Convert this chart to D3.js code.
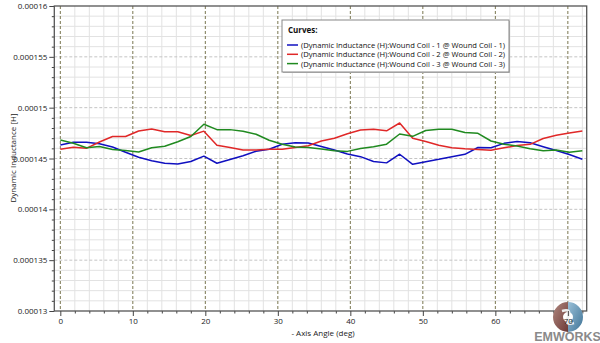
<!DOCTYPE html>
<html><head><meta charset="utf-8">
<script src="https://cdn.jsdelivr.net/npm/d3@7"></script>
<style>body{margin:0;background:#fff;}svg{display:block;font-family:"Open Sans","Noto Sans",sans-serif;}</style>
</head><body>
<script>
const angles = d3.range(41).map(i => +(i * 1.8).toFixed(1));
const coil1 = [146.33,146.59,146.59,146.46,146.13,145.61,145.12,144.78,144.53,144.46,144.71,145.23,144.53,144.90,145.27,145.71,145.91,146.40,146.54,146.53,146.18,145.84,145.44,145.18,144.70,144.57,145.42,144.43,144.69,144.92,145.18,145.41,146.08,146.06,146.49,146.67,146.54,146.16,145.79,145.39,144.92];
const coil2 = [145.92,146.10,146.00,146.62,147.16,147.16,147.71,147.90,147.63,147.63,147.26,147.69,146.30,146.08,145.84,145.84,145.90,145.91,146.08,146.25,146.72,146.99,147.44,147.80,147.87,147.72,148.49,147.00,146.67,146.30,146.06,145.96,145.89,145.82,146.05,146.27,146.39,146.97,147.28,147.51,147.71];
const coil3 = [146.82,146.50,146.05,146.19,145.88,145.78,145.64,146.06,146.20,146.65,147.16,148.37,147.84,147.84,147.69,147.39,146.79,146.41,146.13,146.08,145.93,145.77,145.70,145.99,146.16,146.41,147.41,147.18,147.75,147.87,147.87,147.55,147.48,146.72,146.40,146.23,145.95,145.76,145.84,145.61,145.77];
const seriesNames = ["(Dynamic Inductance (H):Wound Coil - 1 @ Wound Coil - 1)","(Dynamic Inductance (H):Wound Coil - 2 @ Wound Coil - 2)","(Dynamic Inductance (H):Wound Coil - 3 @ Wound Coil - 3)"];
const seriesColors = ["#1010c0","#e02828","#208a20"];
const yTicks = [0.00013,0.000135,0.00014,0.000145,0.00015,0.000155,0.00016];
const yTickLabels = ["0.00013","0.000135","0.00014","0.000145","0.00015","0.000155","0.00016"];
const xTicks = [0,10,20,30,40,50,60,70];

const W=600,H=343;
const svg=d3.select("body").append("svg").attr("width",W).attr("height",H);
const x=d3.scaleLinear().domain([-0.83,72.6]).range([54.3,586.7]);
const y=d3.scaleLinear().domain([0.00013,0.00016]).range([311,6]);

// minor grid
const g=svg.append("g");
g.selectAll(".mx").data(d3.range(2,72.1,2).filter(v=>v%10!==0)).join("line")
 .attr("x1",d=>x(d)).attr("x2",d=>x(d)).attr("y1",6).attr("y2",311)
 .attr("stroke","#e2e2e2").attr("stroke-width",1);
const minorY=d3.range(131,160,1).filter(v=>v%5!==0).map(v=>v*1e-6);
g.selectAll(".my").data(minorY).join("line")
 .attr("x1",54.3).attr("x2",586.7).attr("y1",d=>y(d)).attr("y2",d=>y(d))
 .attr("stroke","#e2e2e2").attr("stroke-width",1);
// major grid
g.selectAll(".My").data(yTicks.slice(1,-1)).join("line")
 .attr("x1",54.3).attr("x2",586.7).attr("y1",d=>y(d)).attr("y2",d=>y(d))
 .attr("stroke","#c4c4c4").attr("stroke-width",1).attr("stroke-dasharray","3,2");
g.selectAll(".Mx").data(xTicks).join("line")
 .attr("x1",d=>x(d)).attr("x2",d=>x(d)).attr("y1",6).attr("y2",311)
 .attr("stroke","#7a7650").attr("stroke-width",1).attr("stroke-dasharray","3,2");

// logo (drawn under the axis labels)
const defs=svg.append("defs");
const gr1=defs.append("linearGradient").attr("id","lg1").attr("x1","0").attr("x2","1").attr("y1","0").attr("y2","1");
gr1.append("stop").attr("offset","0").attr("stop-color","#b08880");
gr1.append("stop").attr("offset","1").attr("stop-color","#6e3a36");
const gr2=defs.append("linearGradient").attr("id","lg2").attr("x1","0").attr("x2","1").attr("y1","0").attr("y2","1");
gr2.append("stop").attr("offset","0").attr("stop-color","#9ac0d8");
gr2.append("stop").attr("offset","1").attr("stop-color","#3f7396");

// axes
const yAxis=d3.axisLeft(y).tickValues(yTicks).tickFormat((d,i)=>yTickLabels[i]).tickSize(5).tickPadding(2);
svg.append("g").attr("transform","translate(54.3,0)").call(yAxis);
const yMinor=d3.axisLeft(y).tickValues(minorY).tickFormat("").tickSize(2.5);
svg.append("g").attr("transform","translate(54.3,0)").call(yMinor).select(".domain").remove();
const xMinor=d3.axisBottom(x).tickValues(d3.range(2,72.1,2).filter(v=>v%10!==0)).tickFormat("").tickSize(2.5);
svg.append("g").attr("transform","translate(0,311)").call(xMinor).select(".domain").remove();

// frame
svg.append("rect").attr("x",54.3).attr("y",6).attr("width",586.7-54.3).attr("height",305)
 .attr("fill","none").attr("stroke","#555").attr("stroke-width",1.3);

// lines
const line=d3.line().x((d,i)=>x(angles[i])).y(d=>y(d*1e-6));
[coil1,coil2,coil3].forEach((s,k)=>{
 svg.append("path").datum(s).attr("d",line).attr("fill","none")
  .attr("stroke",seriesColors[k]).attr("stroke-width",1.5).attr("stroke-linejoin","round");
});

// logo
const cx=568,cy=317,r=15;
svg.append("path").attr("d",`M${cx},${cy-r} A${r},${r} 0 0 0 ${cx},${cy+r} L${cx},${cy+5} A5,5 0 0 1 ${cx},${cy-5} Z`).attr("fill","url(#lg1)");
svg.append("path").attr("d",`M${cx},${cy-r} A${r},${r} 0 0 1 ${cx},${cy+r} L${cx},${cy+5} A5,5 0 0 0 ${cx},${cy-5} Z`).attr("fill","url(#lg2)");
svg.append("path").attr("d",`M${cx-6},${cy-6} Q${cx+4},${cy-9} ${cx},${cy} Q${cx-4},${cy+9} ${cx+6},${cy+6}`).attr("fill","none").attr("stroke","#eee").attr("stroke-width",2.5);

const xAxis=d3.axisBottom(x).tickValues(xTicks).tickSize(5).tickPadding(2);
svg.append("g").attr("transform","translate(0,311)").call(xAxis);
svg.selectAll(".tick line").attr("stroke","#444");
svg.selectAll(".tick text").attr("font-size",8).attr("fill","#222").attr("font-family","'Open Sans',sans-serif");
svg.selectAll(".domain").remove();

// titles
svg.append("text").attr("x",323).attr("y",336).attr("text-anchor","middle")
 .attr("font-size",8).attr("fill","#222").text("- Axis Angle (deg)");
svg.append("text").attr("transform","translate(16,158) rotate(-90)").attr("text-anchor","middle")
 .attr("font-size",8).attr("fill","#222").text("Dynamic Inductance [H]");

// legend
const lg=svg.append("g");
lg.append("rect").attr("x",283).attr("y",21).attr("width",227).attr("height",52).attr("fill","#bbb");
lg.append("rect").attr("x",282).attr("y",20).attr("width",227).attr("height",52)
 .attr("fill","#fff").attr("stroke","#888").attr("stroke-width",1);
lg.append("text").attr("x",288).attr("y",33).attr("font-size",8).attr("font-weight","bold").attr("fill","#111").text("Curves:");
seriesNames.forEach((n,k)=>{
 const yy=45+k*9.3;
 lg.append("line").attr("x1",287).attr("x2",298).attr("y1",yy).attr("y2",yy).attr("stroke",seriesColors[k]).attr("stroke-width",1.5);
 lg.append("text").attr("x",301).attr("y",yy+3).attr("font-size",7.6).attr("fill","#111").text(n);
});

svg.append("text").attr("x",567.5).attr("y",340.5).attr("text-anchor","middle").attr("font-size",12.5).attr("font-weight","bold")
 .attr("fill","#8a8a8a").attr("font-family","'Liberation Sans',Arial,sans-serif").text("EMWORKS");
</script>
</body></html>
